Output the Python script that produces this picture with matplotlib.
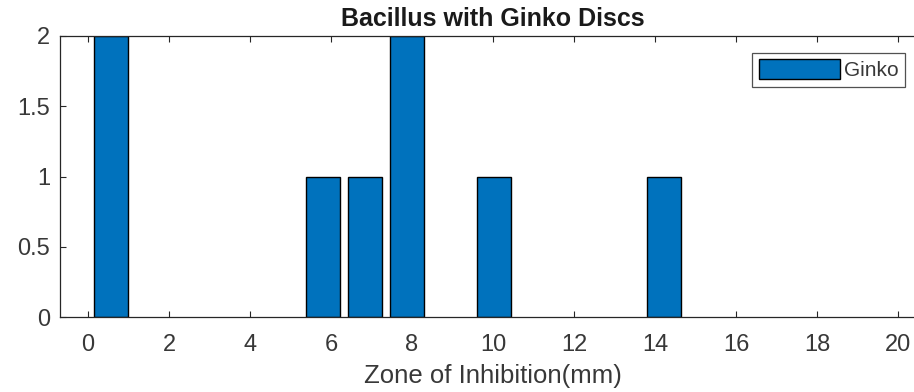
import matplotlib.pyplot as plt

# histogram bin centres (mm) and counts
bin_centers = [0.575, 5.81, 6.85, 7.885, 10.02, 14.21]
counts = [2, 1, 1, 2, 1, 1]
x_ticks = [0, 2, 4, 6, 8, 10, 12, 14, 16, 18, 20]
y_ticks = [0, 0.5, 1, 1.5, 2]
y_tick_labels = ['0', '0.5', '1', '1.5', '2']

plt.rcParams['font.family'] = ['Liberation Sans', 'DejaVu Sans']
axis_gray = '#262626'
label_gray = '#383838'

fig = plt.figure(figsize=(9.14, 3.92), dpi=100)
# axes run a little past the right border of the figure
ax = fig.add_axes([60 / 914, 1 - 317 / 392, 866 / 914, 281 / 392])

ax.bar(bin_centers, counts, width=0.84, color='#0072BD', edgecolor='black',
       linewidth=1.0, label='Ginko', zorder=2)

ax.set_xlim(-0.69, 20.69)
ax.set_ylim(0, 2)
ax.set_xticks(x_ticks)
ax.set_yticks(y_ticks)
ax.set_yticklabels(y_tick_labels)

ax.tick_params(direction='in', length=4.5, width=0.8, color=axis_gray,
               labelcolor=label_gray, labelsize=17, top=True, right=True)
ax.tick_params(axis='x', pad=12)
ax.tick_params(axis='y', pad=7)
for side in ax.spines.values():
    side.set_color(axis_gray)
    side.set_linewidth(0.9)

ax.set_title('Bacillus with Ginko Discs', fontsize=18, fontweight='bold',
             color='#1a1a1a', pad=7)
ax.set_xlabel('Zone of Inhibition(mm)', fontsize=18.5, color=label_gray, labelpad=6)

leg = ax.legend(loc='upper right', bbox_to_anchor=(0.9757, 0.9395), fontsize=15,
                frameon=True, fancybox=False, handlelength=3.9, handleheight=1.1,
                borderpad=0.3, handletextpad=0.2, borderaxespad=0)
leg.get_frame().set_edgecolor(axis_gray)
leg.get_frame().set_linewidth(0.9)
for t in leg.get_texts():
    t.set_color(label_gray)

fig.savefig('out.png', dpi=100)
